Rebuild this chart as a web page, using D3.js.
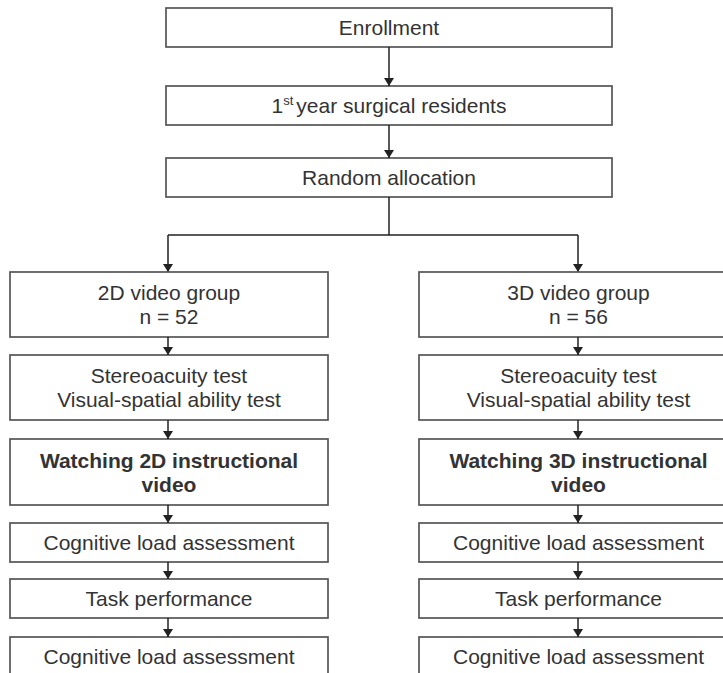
<!DOCTYPE html>
<html lang="en">
<head>
    <meta charset="UTF-8">
    <title>Study flow</title>
    <script src="https://d3js.org/d3.v7.min.js"></script>
    <style>
        body { margin: 0; background: #fff; }
        text { font-family: "Liberation Sans", Arial, sans-serif; fill: #333; }
    </style>
</head>
<body>
<svg id="flow" width="723" height="673"></svg>

<script>
    // Steps before randomisation (single column).
    const topSteps = [
        ["Enrollment"],
        ["1|st|year surgical residents"],
        ["Random allocation"]
    ];

    // The two arms, one list of steps each. Each step is a list of lines.
    const groupNames = ["2D", "3D"];
    const groupSizes = [52, 56];
    const armSteps = groupNames.map((g, i) => [
        [g + " video group", "n = " + groupSizes[i]],
        ["Stereoacuity test", "Visual-spatial ability test"],
        ["Watching " + g + " instructional", "video"],
        ["Cognitive load assessment"],
        ["Task performance"],
        ["Cognitive load assessment"]
    ]);
    const boldStep = 2;

    // Layout of the rows (top and bottom edge of each box).
    const topRows = [[8, 47], [86, 125], [158, 197]];
    const armRows = [[272, 337], [355, 420], [439, 505], [523, 562], [579, 618], [637, 675]];
    const topX = [166, 612];
    const armX = [[10, 328], [419, 738]];
    const branchY = 235;
    const fontSize = 21, lineGap = 24;

    let svg = d3.select("#flow");

    svg.append("defs").append("marker")
        .attr("id", "head")
        .attr("viewBox", "0 0 10 8")
        .attr("refX", 5).attr("refY", 8)
        .attr("markerWidth", 10).attr("markerHeight", 8)
        .attr("markerUnits", "userSpaceOnUse")
        .attr("orient", "0")
        .append("path")
        .attr("d", "M0,0 L10,0 L5,8 Z")
        .attr("fill", "#222");

    // Draws a box with centred lines of text.
    function box(x0, x1, row, lines, bold) {
        let g = svg.append("g");
        g.append("rect")
            .attr("x", x0).attr("y", row[0])
            .attr("width", x1 - x0).attr("height", row[1] - row[0])
            .attr("fill", "#fff")
            .attr("stroke", "#555").attr("stroke-width", 1.7);
        let cy = (row[0] + row[1]) / 2;
        let cx = (x0 + x1) / 2;
        let first = cy - (lines.length - 1) * lineGap / 2 + fontSize * 0.36;
        lines.forEach((ln, i) => {
            let t = g.append("text")
                .attr("x", cx).attr("y", first + i * lineGap)
                .attr("text-anchor", "middle")
                .attr("font-size", fontSize)
                .attr("font-weight", bold ? "bold" : "normal");
            let parts = ln.split("|");
            if (parts.length === 3) {
                t.append("tspan").text(parts[0]);
                t.append("tspan").attr("font-size", 13).attr("dy", -8).text(parts[1]);
                t.append("tspan").attr("dy", 8).attr("dx", 3).text(parts[2]);
            } else {
                t.text(ln);
            }
        });
    }

    function arrow(x, y0, y1) {
        svg.append("line")
            .attr("x1", x).attr("x2", x)
            .attr("y1", y0).attr("y2", y1)
            .attr("stroke", "#222").attr("stroke-width", 1.5)
            .attr("marker-end", "url(#head)");
    }

    let topCx = (topX[0] + topX[1]) / 2;
    topSteps.forEach((lines, i) => {
        box(topX[0], topX[1], topRows[i], lines, false);
        if (i > 0) arrow(topCx, topRows[i - 1][1], topRows[i][0]);
    });

    // Branch from the allocation box to both arms.
    let armCx = armX.map(a => Math.round((a[0] + a[1]) / 2) - 1);
    svg.append("path")
        .attr("d", `M${topCx},${topRows[2][1]} V${branchY} M${armCx[0]},${branchY} H${armCx[1]}`)
        .attr("fill", "none").attr("stroke", "#222").attr("stroke-width", 1.5);
    armCx.forEach(cx => arrow(cx, branchY, armRows[0][0]));

    armSteps.forEach((steps, a) => {
        steps.forEach((lines, i) => {
            box(armX[a][0], armX[a][1], armRows[i], lines, i === boldStep);
            if (i > 0) arrow(armCx[a], armRows[i - 1][1], armRows[i][0]);
        });
    });
</script>
</body>
</html>
